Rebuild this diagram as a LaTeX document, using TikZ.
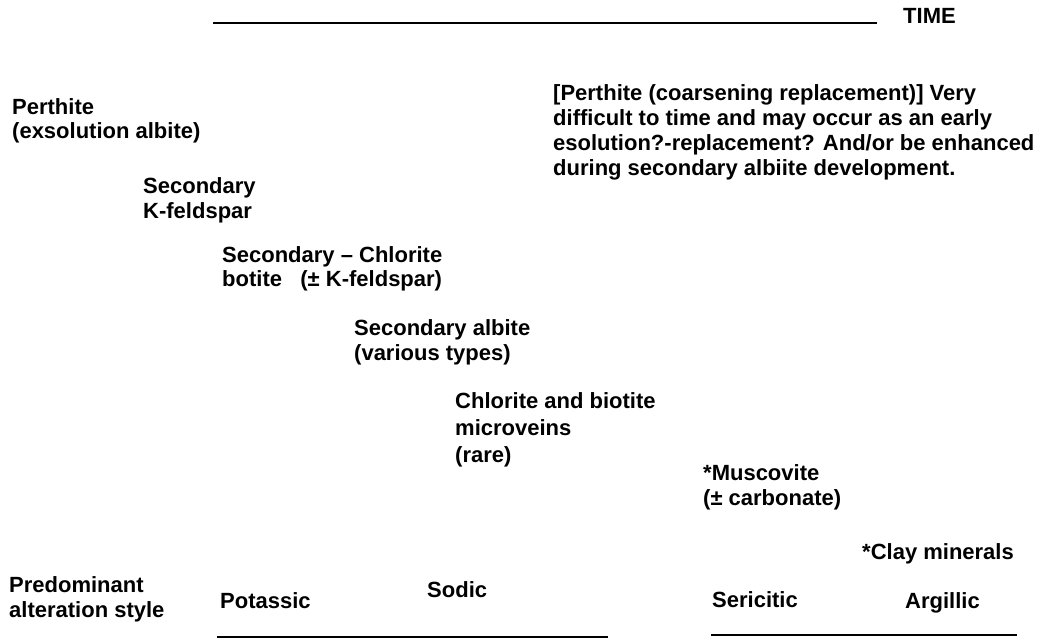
\documentclass[tikz,border=0pt]{standalone}
\usepackage{fontspec}
\setmainfont{Liberation Sans}
\usepackage{tikz}
\usetikzlibrary{positioning, calc}

\begin{document}
\begin{tikzpicture}[x=1pt, y=-1pt,
  lbl/.style={font=\fontsize{22}{25}\selectfont\bfseries, anchor=base west,
              align=left, inner sep=0pt},
  rule/.style={line width=2pt}]

\useasboundingbox (0,0) rectangle (1049,643);

% Time axis (nodes sit on the baseline of their last line)
\coordinate (time-l) at (213,23);
\coordinate (time-r) at (877,23);
\draw[rule] (time-l) -- (time-r);
\node[lbl] (time) at (903,23) {TIME};

% Early alteration
\node[lbl, font=\fontsize{22}{24}\selectfont\bfseries] (perthite) at (12,138)
    {Perthite\\(exsolution albite)};
\node[lbl] (seckfs) at (143,218) {Secondary\\K-feldspar};
\node[lbl, font=\fontsize{22}{24}\selectfont\bfseries] (secbio) at (222,286)
    {Secondary -- Chlorite\\botite \ \ (± K-feldspar)};
\node[lbl] (secalb) at (354,360) {Secondary albite\\(various types)};
\node[lbl, font=\fontsize{22}{27}\selectfont\bfseries] (microv) at (455,462)
    {Chlorite and biotite\\microveins\\(rare)};

% Coarsening note
\node[lbl] (coarse) at (553,175)
    {[Perthite (coarsening replacement)] Very\\
     difficult to time and may occur as an early\\
     esolution?-replacement? And/or be enhanced\\
     during secondary albiite development.};

% Late alteration
\node[lbl] (musc) at (703,505) {*Muscovite\\(± carbonate)};
\node[lbl] (clay) at (862,559) {*Clay minerals};

% Alteration styles
\node[lbl] (predom) at (9,617) {Predominant\\alteration style};
\node[lbl] (potassic) at (220,608) {Potassic};
\node[lbl] (sodic) at (427,597) {Sodic};
\node[lbl] (sericitic) at (712,607) {Sericitic};
\node[lbl] (argillic) at (905,608) {Argillic};

\coordinate (early-l) at (217,637);
\coordinate (early-r) at (608,637);
\coordinate (late-l) at (711,635);
\coordinate (late-r) at (1017,635);
\draw[rule] (early-l) -- (early-r);
\draw[rule] (late-l) -- (late-r);

\end{tikzpicture}
\end{document}
